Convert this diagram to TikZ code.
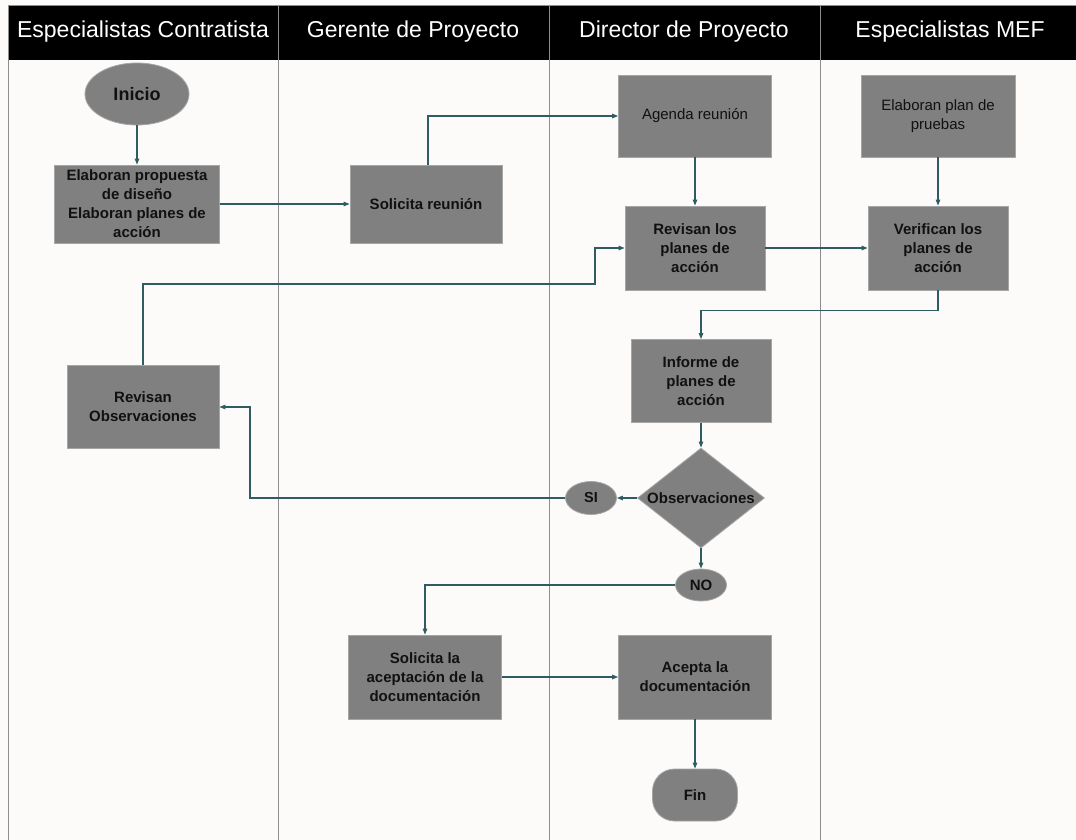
\documentclass[tikz,border=0pt]{standalone}
\usepackage{fontspec}
\setmainfont{Liberation Sans}
\usetikzlibrary{arrows.meta,shapes.geometric}

\definecolor{paper}{HTML}{FCFBF9}
\definecolor{boxfill}{HTML}{808080}
\definecolor{boxedge}{HTML}{A6A6A6}
\definecolor{flow}{HTML}{2F5C60}
\definecolor{laneline}{HTML}{8E8E8E}
\definecolor{ink}{HTML}{111111}

\tikzset{
  stepbox/.style={rectangle, fill=boxfill, draw=boxedge, line width=0.8pt,
    align=center, text=ink, inner sep=2pt,
    font=\bfseries\fontsize{15}{19}\selectfont},
  plainbox/.style={stepbox, font=\fontsize{15}{19}\selectfont},
  terminal/.style={ellipse, fill=boxfill, draw=boxedge, line width=0.8pt,
    text=ink, inner sep=0pt, font=\bfseries\fontsize{15}{18}\selectfont},
  decision/.style={diamond, fill=boxfill, draw=boxedge, line width=0.8pt,
    text=ink, inner sep=0pt, font=\bfseries\fontsize{15}{18}\selectfont},
  lanetitle/.style={text=white, font=\fontsize{23}{26}\selectfont},
  flowline/.style={draw=flow, line width=1.1pt,
    -{Triangle[length=6pt,width=4.5pt]}},
}

\begin{document}
\begin{tikzpicture}[x=1pt,y=-1pt]
  % page and swim lanes
  \fill[paper] (0,0) rectangle (1076,840);
  \useasboundingbox (0,0) rectangle (1076,840);
  \fill[black] (8,5) rectangle (1076,60);
  \draw[laneline, line width=0.9pt] (8,5) -- (1076,5);
  \foreach \lx in {8,278,549,820}
    \draw[laneline, line width=1pt] (\lx,5) -- (\lx,840);

  \node[lanetitle] (t1) at (143,32) {Especialistas Contratista};
  \node[lanetitle] (t2) at (413,32) {Gerente de Proyecto};
  \node[lanetitle] (t3) at (684,32) {Director de Proyecto};
  \node[lanetitle] (t4) at (950,32) {Especialistas MEF};

  % process steps
  \node[terminal, minimum width=104pt, minimum height=62pt,
        font=\bfseries\fontsize{18}{20}\selectfont] (inicio) at (137,94) {Inicio};
  \node[stepbox, minimum width=165pt, minimum height=78pt] (propuesta) at (137,204)
    {Elaboran propuesta\\de diseño\\Elaboran planes de\\acción};
  \node[stepbox, minimum width=152pt, minimum height=78pt] (solreu) at (426,204)
    {Solicita reunión};
  \node[plainbox, minimum width=153pt, minimum height=82pt] (agenda) at (695,116)
    {Agenda reunión};
  \node[plainbox, minimum width=154pt, minimum height=82pt] (pruebas) at (938,116)
    {Elaboran plan de\\pruebas};
  \node[stepbox, minimum width=140pt, minimum height=84pt] (revplanes) at (695,248)
    {Revisan los\\planes de\\acción};
  \node[stepbox, minimum width=140pt, minimum height=84pt] (verplanes) at (938,248)
    {Verifican los\\planes de\\acción};
  \node[stepbox, minimum width=152pt, minimum height=83pt] (revobs) at (143,407)
    {Revisan\\Observaciones};
  \node[stepbox, minimum width=140pt, minimum height=83pt] (informe) at (701,381)
    {Informe de\\planes de\\acción};
  \node[decision, minimum width=127pt, minimum height=100pt] (obs) at (701,498)
    {\makebox[0pt]{Observaciones}};
  \node[terminal, minimum width=51pt, minimum height=33pt,
        font=\bfseries\fontsize{14.5}{16}\selectfont] (si) at (591,498) {SI};
  \node[terminal, minimum width=51pt, minimum height=32pt] (no) at (701,585) {NO};
  \node[stepbox, minimum width=153pt, minimum height=84pt] (solacep) at (425,677)
    {Solicita la\\aceptación de la\\documentación};
  \node[stepbox, minimum width=153pt, minimum height=84pt] (acepta) at (695,677)
    {Acepta la\\documentación};
  \node[rectangle, rounded corners=22pt, fill=boxfill, draw=boxedge,
        line width=0.8pt, text=ink, minimum width=85pt, minimum height=52pt,
        font=\bfseries\fontsize{15}{18}\selectfont] (fin) at (695,795) {Fin};

  % bend points of the routed connectors
  \coordinate (backup) at (595,284);
  \coordinate (sileft) at (250,498);

  % connectors
  \draw[flowline] (inicio) -- (propuesta);
  \draw[flowline] (propuesta) -- (solreu);
  \draw[flowline] ([xshift=2pt]solreu.north) |- (agenda.west);
  \draw[flowline] (agenda) -- (revplanes);
  \draw[flowline] (pruebas) -- (verplanes);
  \draw[flowline] (revplanes) -- (verplanes);
  \draw[flowline] (revobs.north) |- (backup) |- (revplanes.west);
  \draw[flowline] (verplanes.south) -- ++(0,20) -| (informe.north);
  \draw[flowline] (informe) -- (obs);
  \draw[flowline] (obs) -- (si);
  \draw[flowline] (si.west) -- (sileft) |- (revobs.east);
  \draw[flowline] (obs) -- (no);
  \draw[flowline] (no.west) -| (solacep.north);
  \draw[flowline] (solacep) -- (acepta);
  \draw[flowline] (acepta) -- (fin);
\end{tikzpicture}
\end{document}
